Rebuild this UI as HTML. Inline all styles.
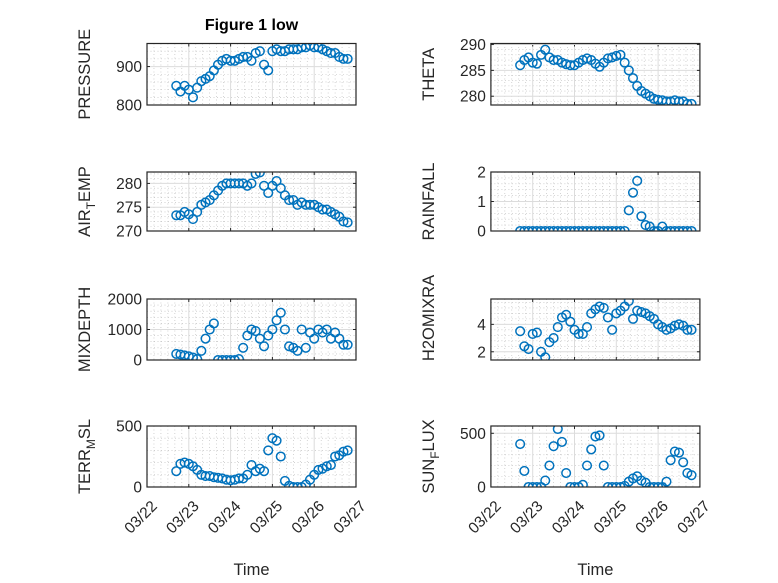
<!DOCTYPE html>
<html><head><meta charset="utf-8">
<style>
html,body{margin:0;padding:0;background:#fff;}
svg{display:block;font-family:"Liberation Sans","DejaVu Sans",sans-serif;}
</style></head>
<body>
<svg id="fig" width="778" height="583" viewBox="0 0 778 583" xmlns="http://www.w3.org/2000/svg"></svg>
<script>
// shared time axis: days after 03/22 00:00
const times = [0.7,0.8,0.9,1.0,1.1,1.2,1.3,1.4,1.5,1.6,1.7,1.8,1.9,2.0,2.1,2.2,2.3,2.4,2.5,2.6,2.7,2.8,2.9,3.0,3.1,3.2,3.3,3.4,3.5,3.6,3.7,3.8,3.9,4.0,4.1,4.2,4.3,4.4,4.5,4.6,4.7,4.8];
const xTickLabels = ["03/22","03/23","03/24","03/25","03/26","03/27"];
const pressure = [850,835,850,840,820,845,862,868,875,890,905,915,920,915,915,920,925,925,915,935,940,905,890,940,945,940,940,945,945,945,950,950,955,950,950,945,940,935,935,925,920,920];
const theta = [286,287,287.5,286.5,286.3,288,289,287.5,287,287,286.5,286.2,286,286,286.5,287,287.3,287,286.3,285.7,286.5,287.3,287.5,287.8,288,286.5,285,283.5,282,281,280.5,280,279.5,279.3,279.2,279,279,279.2,279,279,278.5,278.5];
const airTemp = [273.3,273.3,274,273.5,272.5,274,275.5,276,276.5,277.5,278.5,279.5,280,280,280,280,280,279.5,280,282,282.3,279.5,278,279.5,280.5,279,277.5,276.5,276.5,275.5,276,275.5,275.5,275.5,275,274.5,274.5,274,273.5,273,272,271.8];
const rainfall = [0,0,0,0,0,0,0,0,0,0,0,0,0,0,0,0,0,0,0,0,0,0,0,0,0,0,0.7,1.3,1.7,0.5,0.2,0.15,0,0,0.15,0,0,0,0,0,0,0];
const mixDepth = [200,180,150,120,80,30,300,700,1000,1200,0,0,0,0,0,30,400,800,1000,950,700,450,800,1000,1300,1550,1000,450,400,300,1000,400,900,700,1000,900,1000,700,900,700,500,500];
const h2oMix = [3.5,2.4,2.2,3.3,3.4,2.0,1.6,2.7,3.0,3.8,4.5,4.7,4.2,3.6,3.3,3.3,3.8,4.8,5.1,5.3,5.2,4.5,3.6,4.8,5.0,5.3,5.7,4.4,5.0,4.9,4.8,4.6,4.4,4.0,3.8,3.6,3.7,3.9,4.0,3.9,3.6,3.6];
const terrMsl = [130,190,200,190,170,140,100,90,90,80,75,70,60,55,60,70,70,100,180,130,150,130,300,400,380,250,50,10,0,0,0,20,60,100,140,150,170,180,250,260,290,300];
const sunFlux = [400,150,0,0,0,0,60,200,380,540,420,130,0,0,0,20,200,350,470,480,200,0,0,0,0,10,50,80,100,60,40,0,0,0,0,50,250,330,320,230,130,110];

const NS='http://www.w3.org/2000/svg';
const svg=document.getElementById('fig');
function mk(tag,attrs,parent){const e=document.createElementNS(NS,tag);for(const k in attrs)e.setAttribute(k,attrs[k]);(parent||svg).appendChild(e);return e;}

const colX=[147,490.9], colW=[209,209];
const rows=[[43.5,105],[172,231],[299,360],[426,487]];
const panels=[
 {name:'pressure',vals:pressure,col:0,row:0,ylim:[800,960],ticks:[800,900],minor:20,label:['PRESSURE']},
 {name:'theta',vals:theta,col:1,row:0,ylim:[278.3,290.2],ticks:[280,285,290],minor:1,label:['THETA']},
 {name:'air-temp',vals:airTemp,col:0,row:1,ylim:[270,282.4],ticks:[270,275,280],minor:1,label:['AIR','T','EMP']},
 {name:'rainfall',vals:rainfall,col:1,row:1,ylim:[0,2],ticks:[0,1,2],minor:0.2,label:['RAINFALL']},
 {name:'mixdepth',vals:mixDepth,col:0,row:2,ylim:[0,2000],ticks:[0,1000,2000],minor:200,label:['MIXDEPTH']},
 {name:'h2o-mix-ratio',vals:h2oMix,col:1,row:2,ylim:[1.4,5.85],ticks:[2,4],minor:0.4,label:['H2OMIXRA'],lcy:318},
 {name:'terr-msl',vals:terrMsl,col:0,row:3,ylim:[0,500],ticks:[0,500],minor:100,label:['TERR','M','SL']},
 {name:'sun-flux',vals:sunFlux,col:1,row:3,ylim:[0,568],ticks:[0,500],minor:100,label:['SUN','F','LUX']}
];

panels.forEach((p,i)=>{
  const x0=colX[p.col], x1=x0+colW[p.col], y0=rows[p.row][0], y1=rows[p.row][1];
  const xs=t=>x0+(t/5)*(x1-x0);
  const ys=v=>y1-(v-p.ylim[0])/(p.ylim[1]-p.ylim[0])*(y1-y0);
  const g=mk('g',{});
  
  
  mk('rect',{x:x0,y:y0,width:x1-x0,height:y1-y0,fill:'#fff'},g);
  for(let k=1;k<30;k++){ if(k%6===0) continue; const x=xs(k/6);
    mk('line',{x1:x,x2:x,y1:y0,y2:y1,stroke:'#b8b8b8','stroke-width':0.6,'stroke-dasharray':'1,2.5'},g);}
  const start=Math.ceil(p.ylim[0]/p.minor-1e-9);
  for(let k=start;k*p.minor<=p.ylim[1]+1e-9;k++){const v=k*p.minor;
    if(p.ticks.some(t=>Math.abs(t-v)<1e-6)) continue;
    const y=ys(v); mk('line',{x1:x0,x2:x1,y1:y,y2:y,stroke:'#b8b8b8','stroke-width':0.6,'stroke-dasharray':'1,2.5'},g);}
  for(let d=1;d<5;d++){const x=xs(d);mk('line',{x1:x,x2:x,y1:y0,y2:y1,stroke:'#dcdcdc','stroke-width':1},g);
    mk('line',{x1:x,x2:x,y1:y1,y2:y1-3,stroke:'#262626','stroke-width':1},g);
    mk('line',{x1:x,x2:x,y1:y0,y2:y0+3,stroke:'#262626','stroke-width':1},g);}
  p.ticks.forEach(v=>{const y=ys(v);
    mk('line',{x1:x0,x2:x1,y1:y,y2:y,stroke:'#dcdcdc','stroke-width':1},g);
    mk('line',{x1:x0,x2:x0+3,y1:y,y2:y,stroke:'#262626','stroke-width':1},g);
    mk('line',{x1:x1,x2:x1-3,y1:y,y2:y,stroke:'#262626','stroke-width':1},g);
    const tl=mk('text',{x:x0-5,y:y+5.5,'text-anchor':'end','font-size':15.5,fill:'#262626'},g);
    tl.textContent=String(v);
    
    
  });
  const cid='clip'+i;
  const cp=mk('clipPath',{id:cid},g); mk('rect',{x:x0,y:y0,width:x1-x0,height:y1-y0},cp);
  const dg=mk('g',{'clip-path':'url(#'+cid+')'},g);
  
  
  p.vals.forEach((v,j)=>{
    const c=mk('circle',{cx:xs(times[j]),cy:ys(v),r:4.3,fill:'none',stroke:'#0072BD','stroke-width':1.5},dg);
    
    
  });
  mk('rect',{x:x0,y:y0,width:x1-x0,height:y1-y0,fill:'none',stroke:'#262626','stroke-width':1.2},g);
  const lcx=p.col===0?90:434, lcy=p.lcy||(y0+y1)/2;
  const lab=mk('text',{x:0,y:0,'text-anchor':'middle','font-size':16.5,fill:'#262626',transform:'translate('+lcx+','+lcy+') rotate(-90)'},g);
  
  
  if(p.label.length===1){lab.textContent=p.label[0];}
  else{
    const a=mk('tspan',{},lab);a.textContent=p.label[0];
    const b=mk('tspan',{dy:5,'font-size':12},lab);b.textContent=p.label[1];
    const c=mk('tspan',{dy:-5},lab);c.textContent=p.label[2];
  }
  if(p.row===3){
    xTickLabels.forEach((s,d)=>{const x=xs(d);
      const t=mk('text',{x:0,y:0,'text-anchor':'end','font-size':15.5,fill:'#262626',transform:'translate('+(x+11)+','+(y1+20)+') rotate(-45)'},g);
      t.textContent=s;
      
      
    });
    const xl=mk('text',{x:(x0+x1)/2,y:575,'text-anchor':'middle','font-size':16.5,fill:'#262626'},g);
    xl.textContent='Time';
    
    
  }
});
const title=mk('text',{x:251.5,y:30,'text-anchor':'middle','font-size':16,'font-weight':'bold',fill:'#000'});
title.textContent='Figure 1 low';


</script>
</body></html>
